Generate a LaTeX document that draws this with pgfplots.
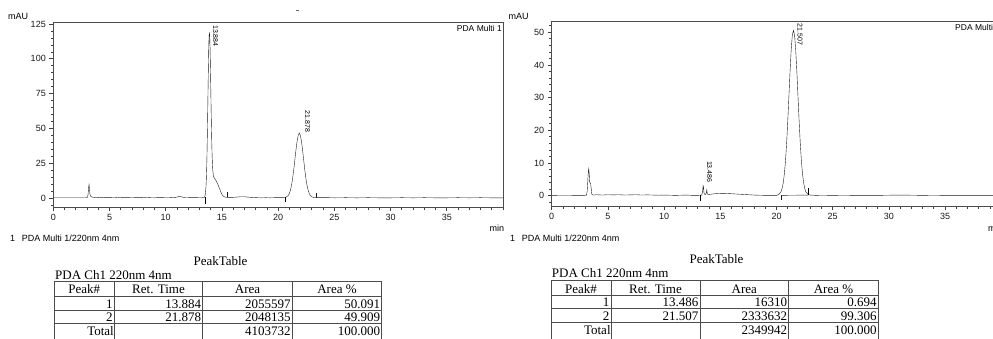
\documentclass[border=0pt]{standalone}
\usepackage{fontspec}
\setmainfont{Liberation Serif}
\newfontfamily\arial{Liberation Sans}
\usepackage{pgfplots}
\pgfplotsset{compat=1.18}
\begin{document}
\begin{tikzpicture}[x=1pt,y=1pt]
\path[use as bounding box] (0,0) rectangle (993,338);
\clip (0,0) rectangle (993,338);
\pgfplotsset{chrom/.style={
  scale only axis, anchor=south west, clip=false,
  xmin=0, xmax=40,
  axis line style={black!70, line width=1pt},
  tick align=outside, xtick pos=bottom, ytick pos=left,
  major tick length=4pt, minor tick length=2.5pt,
  tick style={black!75, line width=0.8pt},
  xtick={0,5,...,35}, minor xtick={0,1,...,40},
  tick label style={font=\arial\fontsize{9}{10}\selectfont, text=black!90},
  /pgf/number format/assume math mode=true,
  scaled ticks=false,
  no markers,
  cycle list={{black!90, line width=0.85pt}},
}}
% ---------------- left chromatogram ----------------
\begin{axis}[chrom, at={(53.3pt,131pt)}, width=449.7pt, height=184.3pt,
  ymin=-6.5, ymax=126, ytick={0,25,...,125}, minor ytick={-5,0,...,125}]
\addplot coordinates {(0,0.3)(0.5,0.3)(1,0.3)(1.5,0.3)(2,0.3)(2.5,0.3)(2.9,0.3)(3.05,0.6)(3.1,3)(3.14,7.5)(3.18,9.7)(3.22,6.5)(3.26,2.8)(3.32,1.2)(3.45,0.6)(3.7,0.4)(4.0,0.2)(4.3,0.5)(4.6,0.2)(5.0,0.3)(5.4,0.1)(5.8,0.4)(6.2,0.2)(6.6,0.3)(7.0,0.1)(7.4,0.3)(7.8,0.2)(8.2,0.4)(8.6,0.2)(9.0,0.1)(9.4,0.3)(9.8,0.2)(10.2,0.1)(10.6,0.3)(10.95,0.5)(11.1,0.9)(11.25,1.1)(11.4,0.8)(11.6,0.4)(12.0,0.3)(12.4,0.2)(12.8,0.2)(13.2,0.1)(13.444,0.5)(13.504,1.9)(13.544,4.1)(13.584,8.5)(13.614,14)(13.644,21.8)(13.674,32.5)(13.704,45.8)(13.734,61.4)(13.764,77.9)(13.794,93.8)(13.824,107.2)(13.854,116.1)(13.884,119)(13.914,116.4)(13.944,108)(13.974,95.6)(14.004,81.2)(14.034,66.2)(14.064,52.1)(14.094,40.3)(14.124,31.1)(14.154,24.8)(14.184,20.3)(14.224,16.9)(14.264,15.2)(14.32,14.4)(14.4,13.5)(14.5,12)(14.6,10.5)(14.7,8.5)(14.8,6.5)(14.9,4.3)(15.0,2.6)(15.1,1.5)(15.2,0.9)(15.3,0.6)(15.5,0.4)(15.9,0.4)(16.3,0.6)(16.7,0.9)(17.0,0.9)(17.3,0.6)(17.7,0.4)(18.1,0.2)(18.5,0.1)(18.9,0.2)(19.3,0.1)(19.7,0.2)(20.1,0.2)(20.5,0.3)(20.678,0.5)(20.878,1.6)(20.978,3.0)(21.078,5.2)(21.178,8.7)(21.278,13.5)(21.378,19.7)(21.478,26.8)(21.578,34.1)(21.678,40.5)(21.778,44.9)(21.878,46.6)(21.978,44.9)(22.078,40.5)(22.178,34.1)(22.278,26.8)(22.378,19.7)(22.478,13.5)(22.578,8.7)(22.678,5.2)(22.778,3.0)(22.878,1.6)(23.078,0.5)(23.3,0.3)(23.8,0.2)(24.5,0.2)(25,0.1)(26,0.2)(27,0.1)(28,0.2)(29,0.1)(30,0.1)(31,0.2)(32,0.1)(33,0.2)(34,0.1)(35,0.1)(36,0.2)(37,0.1)(38,0.2)(39,0.1)(40,0.1)};
\addplot coordinates {(13.5,-4.2)(13.5,0.4)};
\addplot coordinates {(15.45,0.4)(15.45,4.3)};
\addplot coordinates {(20.67,-2.8)(20.67,0.4)};
\addplot coordinates {(23.37,0.3)(23.37,3.6)};
\node[rotate=-90, anchor=south west, inner sep=0pt, font=\arial\fontsize{7}{8}\selectfont] at ([xshift=3.5pt]axis cs:13.884,124.3) {13.884};
\node[rotate=-90, anchor=south east, inner sep=0pt, font=\arial\fontsize{7}{8}\selectfont] at ([xshift=5.5pt,yshift=1pt]axis cs:21.878,46.6) {21.878};
\node[anchor=north east, inner sep=0pt, font=\arial\fontsize{8.5}{9}\selectfont] at ([xshift=-1pt,yshift=-2pt]rel axis cs:1,1) {PDA Multi 1};
\end{axis}
% ---------------- right chromatogram ----------------
\begin{axis}[chrom, at={(551.7pt,132pt)}, width=449.6pt, height=184.3pt,
  ymin=-3.15, ymax=53.24, ytick={0,10,...,50}, minor ytick={-2,0,...,52}]
\addplot coordinates {(0,0.0)(0.5,0.05)(1,0.05)(1.5,0.05)(2,0.1)(2.5,0.1)(2.9,0.1)(3.1,0.2)(3.16,1.5)(3.21,4.5)(3.26,7.5)(3.3,8.3)(3.34,6.5)(3.38,4.2)(3.42,3.9)(3.47,3.6)(3.52,2)(3.57,0.4)(3.7,0.2)(4,0.3)(4.5,0.2)(5,0.3)(5.5,0.25)(6,0.3)(6.5,0.2)(7,0.25)(7.5,0.3)(8,0.2)(8.5,0.25)(9,0.2)(9.5,0.15)(10,0.2)(10.5,0.15)(11,0.1)(11.5,0.15)(12,0.2)(12.5,0.1)(13,0.1)(13.35,0.2)(13.42,1.2)(13.47,3.1)(13.5,2.8)(13.55,0.8)(13.62,0.4)(13.7,0.4)(13.76,1.0)(13.8,1.8)(13.84,0.5)(14,0.4)(14.5,0.6)(15,0.7)(15.5,0.7)(16,0.6)(16.5,0.5)(17,0.4)(17.5,0.3)(18,0.2)(18.5,0.15)(19,0.1)(19.5,0.1)(20,0.1)(20.207,0.36)(20.407,1.25)(20.507,2.3)(20.607,4.1)(20.707,6.9)(20.807,11.0)(20.907,16.5)(21.007,23.2)(21.107,30.7)(21.207,38.2)(21.307,44.7)(21.407,49.1)(21.507,50.6)(21.607,49.1)(21.707,44.7)(21.807,38.2)(21.907,30.7)(22.007,23.2)(22.107,16.5)(22.207,11.0)(22.307,6.9)(22.407,4.1)(22.507,2.3)(22.607,1.25)(22.807,0.36)(23.0,0.2)(23.5,0.1)(24,0.15)(25,0.1)(26,0.15)(27,0.1)(28,0.12)(29,0.1)(30,0.15)(31,0.2)(32,0.15)(33,0.1)(34,0.15)(35,0.1)(36,0.1)(37,0.1)(38,0.1)(39,0.1)(40,0.1)};
\addplot coordinates {(13.22,-1.6)(13.22,0.2)};
\addplot coordinates {(20.4,-1.3)(20.4,0.1)};
\addplot coordinates {(22.83,0.2)(22.83,2.3)};
\addplot[black!85, line width=0.4pt] coordinates {(20.4,0.1)(22.83,0.2)};
\node[rotate=-90, anchor=south west, inner sep=0pt, font=\arial\fontsize{7}{8}\selectfont] at ([xshift=4pt]axis cs:21.507,52.7) {21.507};
\node[rotate=-90, anchor=south east, inner sep=0pt, font=\arial\fontsize{7}{8}\selectfont] at ([xshift=3.5pt]axis cs:13.486,4.0) {13.486};
\node[anchor=north east, inner sep=0pt, font=\arial\fontsize{8.5}{9}\selectfont] at ([xshift=-1pt,yshift=-2pt]rel axis cs:1,1) {PDA Multi 1};
\end{axis}
% ---------------- free text ----------------
\begin{scope}[every node/.style={inner sep=0pt, font=\arial\fontsize{9}{10}\selectfont}]
\node[anchor=base west] at (8,318) {mAU};
\node[anchor=base west] at (508.3,318) {mAU};
\node[anchor=base west] at (489.3,107) {min};
\node[anchor=base west] at (988,107) {min};
\node[anchor=base west] at (10,97) {1};
\node[anchor=base west] at (21.7,97) {PDA Multi 1/220nm 4nm};
\node[anchor=base west] at (510,97) {1};
\node[anchor=base west] at (521.7,97) {PDA Multi 1/220nm 4nm};
\end{scope}
\draw[black!60, line width=0.6pt] (295.5,327.3) -- (298.5,327.3);
% ---------------- tables ----------------
\tikzset{tbl/.style={black!70, line width=0.8pt}, tt/.style={inner sep=0pt, font=\fontsize{13}{15}\selectfont}}
% left
\node[tt, anchor=base] at (220.5,73) {PeakTable};
\node[tt, anchor=base west] at (55,59) {PDA Ch1 220nm 4nm};
\foreach \y in {56.5,41.5,28,14.5} \draw[tbl] (54.3,\y) -- (381.7,\y);
\foreach \x in {54.3,114.3,202.7,292.3,381.7} \draw[tbl] (\x,56.5) -- (\x,-2);
\node[tt, anchor=base] at (84.3,44.5) {Peak\#};
\node[tt, anchor=base] at (158.5,44.5) {Ret. Time};
\node[tt, anchor=base] at (247.5,44.5) {Area};
\node[tt, anchor=base] at (337,44.5) {Area \%};
\node[tt, anchor=base east] at (112.8,30) {1};
\node[tt, anchor=base east] at (201.2,30) {13.884};
\node[tt, anchor=base east] at (290.8,30) {2055597};
\node[tt, anchor=base east] at (380.2,30) {50.091};
\node[tt, anchor=base east] at (112.8,16.2) {2};
\node[tt, anchor=base east] at (201.2,16.2) {21.878};
\node[tt, anchor=base east] at (290.8,16.2) {2048135};
\node[tt, anchor=base east] at (380.2,16.2) {49.909};
\node[tt, anchor=base east] at (114.0,2.5) {Total};
\node[tt, anchor=base east] at (290.8,2.5) {4103732};
\node[tt, anchor=base east] at (380.2,2.5) {100.000};
% right
\node[tt, anchor=base] at (716.5,74.5) {PeakTable};
\node[tt, anchor=base west] at (551.7,60.3) {PDA Ch1 220nm 4nm};
\foreach \y in {58,43,29.7,15.3} \draw[tbl] (551,\y) -- (878.3,\y);
\foreach \x in {551,611,700,788.7,878.3} \draw[tbl] (\x,58) -- (\x,-2);
\node[tt, anchor=base] at (581,45) {Peak\#};
\node[tt, anchor=base] at (655.5,45) {Ret. Time};
\node[tt, anchor=base] at (744.35,45) {Area};
\node[tt, anchor=base] at (833.5,45) {Area \%};
\node[tt, anchor=base east] at (609.5,31.5) {1};
\node[tt, anchor=base east] at (698.5,31.5) {13.486};
\node[tt, anchor=base east] at (787.2,31.5) {16310};
\node[tt, anchor=base east] at (876.8,31.5) {0.694};
\node[tt, anchor=base east] at (609.5,17.5) {2};
\node[tt, anchor=base east] at (698.5,17.5) {21.507};
\node[tt, anchor=base east] at (787.2,17.5) {2333632};
\node[tt, anchor=base east] at (876.8,17.5) {99.306};
\node[tt, anchor=base east] at (610.8,3.5) {Total};
\node[tt, anchor=base east] at (787.2,3.5) {2349942};
\node[tt, anchor=base east] at (876.8,3.5) {100.000};
\end{tikzpicture}
\end{document}
